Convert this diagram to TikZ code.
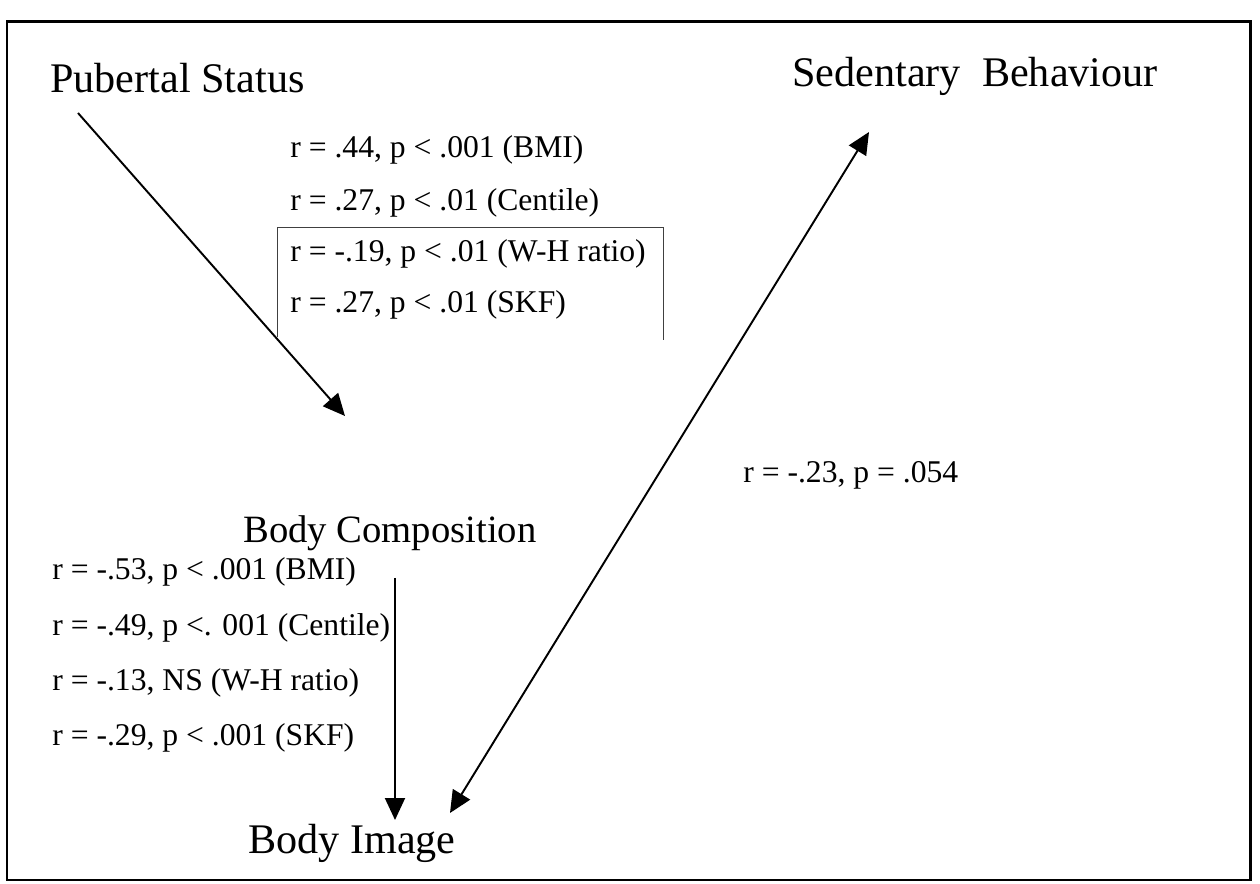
\documentclass[tikz,border=0pt]{standalone}
\usepackage{fontspec}
\setmainfont{Liberation Serif}
\usetikzlibrary{arrows.meta}

\begin{document}
\begin{tikzpicture}[
    title/.style={anchor=base west, inner sep=0pt, font=\fontsize{24}{28}\selectfont},
    stat/.style={anchor=base west, inner sep=0pt, font=\fontsize{18}{22}\selectfont},
    path_arrow/.style={line width=1.1pt, -{Triangle[length=0.44cm, width=0.4cm]}},
    both_arrow/.style={line width=1.1pt, {Triangle[length=0.44cm, width=0.4cm]}-{Triangle[length=0.44cm, width=0.4cm]}}
]
    \useasboundingbox (0,0) rectangle (25.2,17.66);

    % Frame
    \draw[line width=1.7pt] (0.14,0.06) rectangle (25.0,17.22);

    % Variables
    \node[title] (pubertal) at (1.0,15.8) {Pubertal Status};
    \node[title] (sedentary) at (15.84,15.92) {Sedentary\ \ Behaviour};
    \node[title, font=\fontsize{22}{26}\selectfont] (composition) at (4.86,6.8) {Body Composition};
    \node[title] (image) at (4.96,0.6) {Body Image};

    % Pubertal Status -> Body Composition
    \node[stat] (pc_bmi) at (5.8,14.5) {r = .44, p < .001 (BMI)};
    \node[stat] (pc_centile) at (5.8,13.45) {r = .27, p < .01 (Centile)};
    \node[stat] (pc_whr) at (5.8,12.42) {r = -.19, p < .01 (W-H ratio)};
    \node[stat] (pc_skf) at (5.8,11.4) {r = .27, p < .01 (SKF)};
    \draw[line width=0.5pt, black!75] (5.54,10.92) |- (13.26,13.12) -- (13.26,10.86);

    % Body Composition -> Body Image
    \node[stat] (ci_bmi) at (1.04,6.06) {r = -.53, p < .001 (BMI)};
    \node[stat] (ci_centile) at (1.04,4.96) {r = -.49, p <. 001 (Centile)};
    \node[stat] (ci_whr) at (1.04,3.86) {r = -.13, NS (W-H ratio)};
    \node[stat] (ci_skf) at (1.04,2.76) {r = -.29, p < .001 (SKF)};

    % Sedentary Behaviour <-> Body Image
    \node[stat] (si_corr) at (14.86,8.0) {r = -.23, p = .054};

    % Arrow ends
    \coordinate (pubertal_out) at (1.56,15.4);
    \coordinate (composition_in) at (6.9,9.34);
    \coordinate (composition_out) at (7.9,6.1);
    \coordinate (image_in) at (7.9,1.26);
    \coordinate (image_side) at (9.0,1.4);
    \coordinate (sedentary_in) at (17.38,15.02);

    % Relationships
    \draw[path_arrow] (pubertal_out) -- (composition_in);
    \draw[path_arrow] (composition_out) -- (image_in);
    \draw[both_arrow] (image_side) -- (sedentary_in);
\end{tikzpicture}
\end{document}
